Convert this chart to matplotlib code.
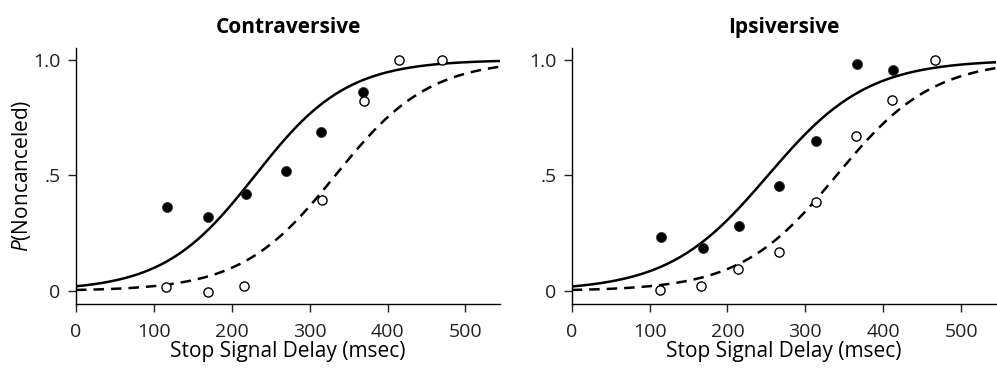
import numpy as np
import matplotlib.pyplot as plt

plt.rcParams['font.family'] = ['Open Sans', 'DejaVu Sans']
plt.rcParams['mathtext.fontset'] = 'custom'
plt.rcParams['mathtext.rm'] = 'Open Sans'
plt.rcParams['mathtext.it'] = 'Open Sans:italic'

# stop signal delays (msec) and P(noncanceled)
titles = ['Contraversive', 'Ipsiversive']

contra_filled_x = [117, 169, 218, 269, 315, 369]
contra_filled_y = [0.364, 0.32, 0.42, 0.52, 0.687, 0.861]
contra_open_x = [115, 169, 216, 316, 370, 415, 470]
contra_open_y = [0.019, -0.003, 0.023, 0.393, 0.82, 1.0, 1.0]

ipsi_filled_x = [115, 168, 215, 266, 314, 366, 413]
ipsi_filled_y = [0.233, 0.187, 0.28, 0.453, 0.65, 0.98, 0.955]
ipsi_open_x = [114, 166, 214, 266, 314, 365, 411, 466]
ipsi_open_y = [0.004, 0.022, 0.096, 0.17, 0.386, 0.67, 0.827, 1.0]

# logistic fit parameters (midpoint, spread)
contra_solid_fit = (230, 59)
contra_dashed_fit = (333, 60.5)
ipsi_solid_fit = (252, 64)
ipsi_dashed_fit = (340, 62)

panels = [
    (contra_filled_x, contra_filled_y, contra_open_x, contra_open_y,
     contra_solid_fit, contra_dashed_fit),
    (ipsi_filled_x, ipsi_filled_y, ipsi_open_x, ipsi_open_y,
     ipsi_solid_fit, ipsi_dashed_fit),
]


def logistic(x, fit):
    m, s = fit
    return 1.0 / (1.0 + np.exp(-(x - m) / s))


fig = plt.figure(figsize=(9.97, 3.71), dpi=100)
lefts = [0.0762, 0.5734]
xs = np.linspace(0, 560, 400)

for i, (fx, fy, ox, oy, sfit, dfit) in enumerate(panels):
    ax = fig.add_axes([lefts[i], 0.181, 0.4258, 0.690])
    ax.plot(xs, logistic(xs, sfit), color='black', lw=1.8, zorder=2)
    ax.plot(xs, logistic(xs, dfit), color='black', lw=1.8,
            dashes=(4.2, 2.8), zorder=2)
    ax.plot(fx, fy, 'o', color='black', ms=7.2, mec='#333333', mew=0.6, zorder=3)
    ax.plot(ox, oy, 'o', mfc='white', mec='black', ms=6.6, mew=1.0, zorder=3)

    ax.set_xlim(0, 545)
    ax.set_ylim(-0.056, 1.052)
    ax.set_xticks([0, 100, 200, 300, 400, 500])
    ax.set_yticks([0, 0.5, 1.0])
    ax.set_yticklabels(['0', '.5', '1.0'])
    for side in ['top', 'right']:
        ax.spines[side].set_visible(False)
    for side in ['left', 'bottom']:
        ax.spines[side].set_linewidth(1.0)
    ax.tick_params(direction='out', length=6, width=1.0, labelsize=14,
                   colors='#222222')
    ax.tick_params(axis='x', pad=8)
    ax.tick_params(axis='y', pad=5)
    ax.set_xlabel('Stop Signal Delay (msec)', fontsize=15, labelpad=0)
    ax.set_title(titles[i], fontsize=15, fontweight='bold', pad=10.5)
    if i == 0:
        ax.set_ylabel(r'$\it{P}$(Noncanceled)', fontsize=15, labelpad=0)

fig.savefig('out.png', dpi=100)
